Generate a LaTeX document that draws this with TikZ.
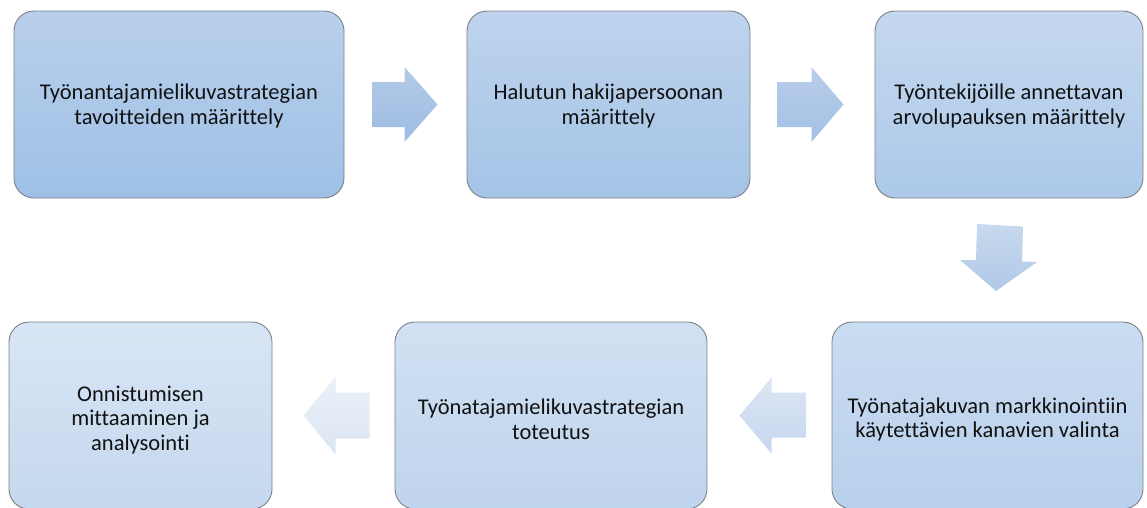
\documentclass[tikz,border=0pt]{standalone}
\usepackage{fontspec}
\setmainfont{Carlito}[Ligatures=NoCommon]
\usetikzlibrary{calc}
\definecolor{bordc}{HTML}{7C7F85}
\definecolor{txtc}{HTML}{111111}
\tikzset{
  stepbox/.style={draw=bordc, line width=0.9pt, rounded corners=20pt, inner sep=0pt},
  steptext/.style={inner sep=0pt, align=center, text=txtc, font=\fontsize{22.5}{24.5}\selectfont},
  blockarr/.style={draw=none},
}
\begin{document}
\begin{tikzpicture}[x=1pt,y=-1pt]
\useasboundingbox (0,0) rectangle (1147,507);
% boxes
\node[stepbox, top color={rgb,255:red,185;green,208;blue,236}, bottom color={rgb,255:red,158;green,192;blue,230},
  minimum width=330pt, minimum height=187pt] (b1) at (179,104.5) {};
\node[stepbox, top color={rgb,255:red,190;green,211;blue,237}, bottom color={rgb,255:red,164;green,196;blue,231},
  minimum width=283pt, minimum height=187pt] (b2) at (608.5,104.5) {};
\node[stepbox, top color={rgb,255:red,196;green,216;blue,239}, bottom color={rgb,255:red,172;green,201;blue,233},
  minimum width=268pt, minimum height=187pt] (b3) at (1009,104.5) {};
\node[stepbox, top color={rgb,255:red,202;green,220;blue,241}, bottom color={rgb,255:red,184;green,208;blue,236},
  minimum width=311pt, minimum height=187pt] (b4) at (987.5,415.5) {};
\node[stepbox, top color={rgb,255:red,209;green,225;blue,243}, bottom color={rgb,255:red,191;green,212;blue,237},
  minimum width=312pt, minimum height=187pt] (b5) at (551,415.5) {};
\node[stepbox, top color={rgb,255:red,216;green,229;blue,245}, bottom color={rgb,255:red,198;green,216;blue,238},
  minimum width=263pt, minimum height=187pt] (b6) at (140.5,415.5) {};
% texts
\node[steptext] (t1) at ($(b1.center)+(0,1.5)$) {Työnantajamielikuvastrategian\\tavoitteiden määrittely};
\node[steptext] (t2) at ($(b2.center)+(0,1.5)$) {Halutun hakijapersoonan\\määrittely};
\node[steptext] (t3) at ($(b3.center)+(0,1.5)$) {Työntekijöille annettavan\\arvolupauksen määrittely};
\node[steptext] (t4) at ($(b4.center)+(0,4)$) {Työnatajakuvan markkinointiin\\käytettävien kanavien valinta};
\node[steptext] (t5) at ($(b5.center)+(0,4)$) {Työnatajamielikuvastrategian\\toteutus};
\node[steptext] (t6) at ($(b6.center)+(0,4.5)$) {Onnistumisen\\mittaaminen ja\\analysointi};
% block arrows
\coordinate (a1) at ($(b1.east)!0.5!(b2.west)$);
\coordinate (a2) at ($(b2.east)!0.5!(b3.west)$);
\coordinate (a4) at ($(b4.west)!0.5!(b5.east)$);
\coordinate (a5) at ($(b5.west)!0.5!(b6.east)$);
\shade[blockarr, top color={rgb,255:red,180;green,202;blue,232}, bottom color={rgb,255:red,156;green,188;blue,226}, shift={(a1)}]
  (-33,-22.5) -- (-1,-22.5) -- (-1,-37.5) -- (32,0) -- (-1,37.5) -- (-1,22.5) -- (-33,22.5) -- cycle;
\shade[blockarr, top color={rgb,255:red,186;green,206;blue,234}, bottom color={rgb,255:red,162;green,192;blue,228}, shift={(a2)}]
  (-35,-22.5) -- (-1,-22.5) -- (-1,-37.5) -- (31,0) -- (-1,37.5) -- (-1,22.5) -- (-35,22.5) -- cycle;
\shade[blockarr, top color={rgb,255:red,200;green,217;blue,238}, bottom color={rgb,255:red,176;green,201;blue,231}]
  (977,224) -- (1023,226.5) -- (1022,261.5) -- (1037,262) -- (996,291) -- (960,260) -- (976,260) -- cycle;
\shade[blockarr, top color={rgb,255:red,220;green,230;blue,244}, bottom color={rgb,255:red,197;green,215;blue,238}, shift={(a4)}]
  (36,-23) -- (2,-23) -- (2,-38) -- (-30,0) -- (2,38) -- (2,22) -- (36,22) -- cycle;
\shade[blockarr, top color={rgb,255:red,236;green,241;blue,249}, bottom color={rgb,255:red,218;green,229;blue,243}, shift={(a5)}]
  (36,-23) -- (2,-23) -- (2,-39) -- (-30,0) -- (2,39) -- (2,23) -- (36,23) -- cycle;
\end{tikzpicture}
\end{document}
